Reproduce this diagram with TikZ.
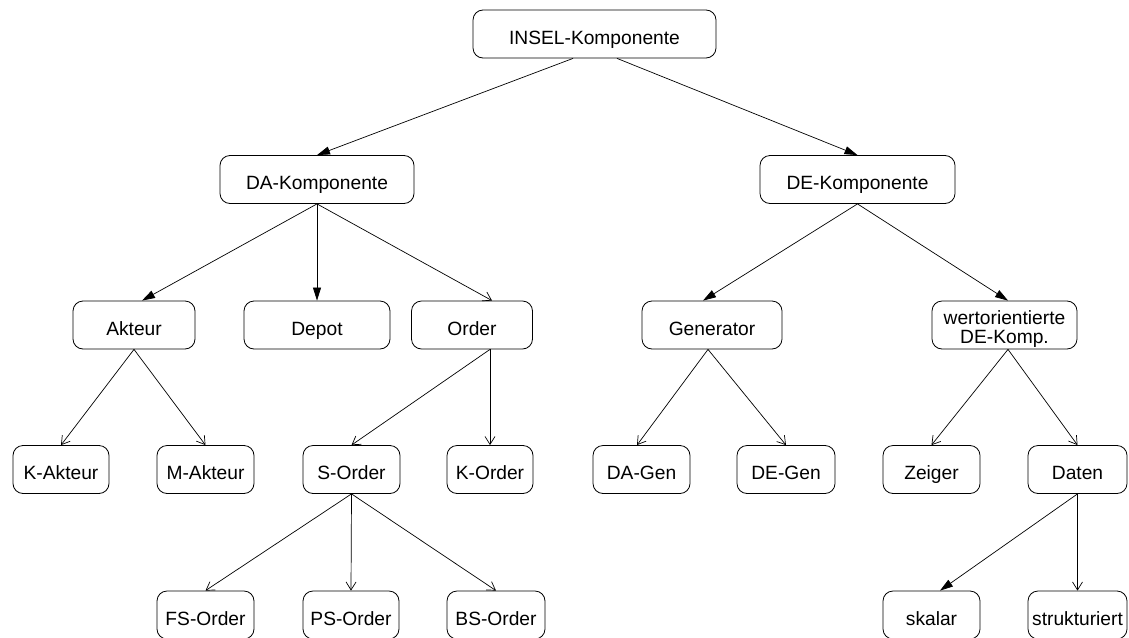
\documentclass[tikz,border=0pt]{standalone}
\usepackage{fontspec}
\setmainfont{Liberation Sans}
\usetikzlibrary{arrows.meta}
\begin{document}
\begin{tikzpicture}[x=1pt,y=-1pt,
  box/.style={draw,rounded corners=10pt,line width=0.8pt,inner sep=0pt,
    minimum height=48pt,align=center,text height=20pt,text depth=0pt,
    font=\fontsize{19.2}{18}\selectfont},
  twoline/.style={text height=,text depth=},
  isa/.style={draw,line width=0.7pt,-{Triangle[length=13pt,width=8pt]}},
  has/.style={draw,line width=0.7pt,-{Straight Barb[length=8pt,width=10pt,line width=0.7pt]}}]
\useasboundingbox (0,0) rectangle (1129,637);

% level 0
\node[box,minimum width=243pt] (insel) at (594.5,34) {INSEL-Komponente};
% level 1
\node[box,minimum width=194pt] (da) at (317,179.5) {DA-Komponente};
\node[box,minimum width=195pt] (de) at (857.5,179.5) {DE-Komponente};
% level 2
\node[box,minimum width=122pt] (akteur) at (134,325) {Akteur};
\node[box,minimum width=146pt] (depot) at (317,325) {Depot};
\node[box,minimum width=121pt] (order) at (472,325) {Order};
\node[box,minimum width=140pt] (gen) at (712,325) {Generator};
\node[box,twoline,minimum width=145pt] (wert) at (1004.5,325)
  {\raisebox{-5pt}[\height][\depth]{\begin{tabular}{@{}c@{}}wertorientierte\\DE-Komp.\end{tabular}}};
% level 3
\node[box,minimum width=96pt] (kakt) at (61,469.5) {K-Akteur};
\node[box,minimum width=97pt] (makt) at (205.5,469.5) {M-Akteur};
\node[box,minimum width=97pt] (sord) at (351.5,469.5) {S-Order};
\node[box,minimum width=86pt] (kord) at (490,469.5) {K-Order};
\node[box,minimum width=97pt] (dagen) at (641.5,469.5) {DA-Gen};
\node[box,minimum width=98pt] (degen) at (786,469.5) {DE-Gen};
\node[box,minimum width=97pt] (zeiger) at (931.5,469.5) {Zeiger};
\node[box,minimum width=99pt] (daten) at (1077.5,469.5) {Daten};
% level 4
\node[box,minimum width=97pt] (fs) at (205.5,615) {FS-Order};
\node[box,minimum width=96pt] (ps) at (351,615) {PS-Order};
\node[box,minimum width=98pt] (bs) at (496,615) {BS-Order};
\node[box,minimum width=97pt] (skalar) at (931.5,615) {skalar};
\node[box,minimum width=99pt] (strukt) at (1077.5,615) {strukturiert};

% connectors
\draw[isa] ([xshift=-21.5pt]insel.south) -- (da.north);
\draw[isa] ([xshift=22.5pt]insel.south) -- (de.north);

\draw[isa] (da.south) -- ([xshift=8pt]akteur.north);
\draw[isa] (da.south) -- (depot.north);
\draw[has] (da.south) -- ([xshift=20pt]order.north);

\draw[isa] (de.south) -- ([xshift=-9pt]gen.north);
\draw[isa] (de.south) -- ([xshift=3.5pt]wert.north);

\draw[has] (akteur.south) -- (kakt.north);
\draw[has] (akteur.south) -- (makt.north);

\draw[has] ([xshift=18pt]order.south) -- (sord.north);
\draw[has] ([xshift=18pt]order.south) -- (kord.north);

\draw[has] (sord.south) -- (fs.north);
\draw[has] (sord.south) -- (ps.north);
\draw[has] (sord.south) -- (bs.north);

\draw[has] ([xshift=-4pt]gen.south) -- ([xshift=-4.5pt]dagen.north);
\draw[has] ([xshift=-4pt]gen.south) -- (degen.north);

\draw[has] ([xshift=3.5pt]wert.south) -- (zeiger.north);
\draw[has] ([xshift=3.5pt]wert.south) -- (daten.north);

\draw[isa] (daten.south) -- ([xshift=8.5pt]skalar.north);
\draw[has] (daten.south) -- (strukt.north);
\end{tikzpicture}
\end{document}
